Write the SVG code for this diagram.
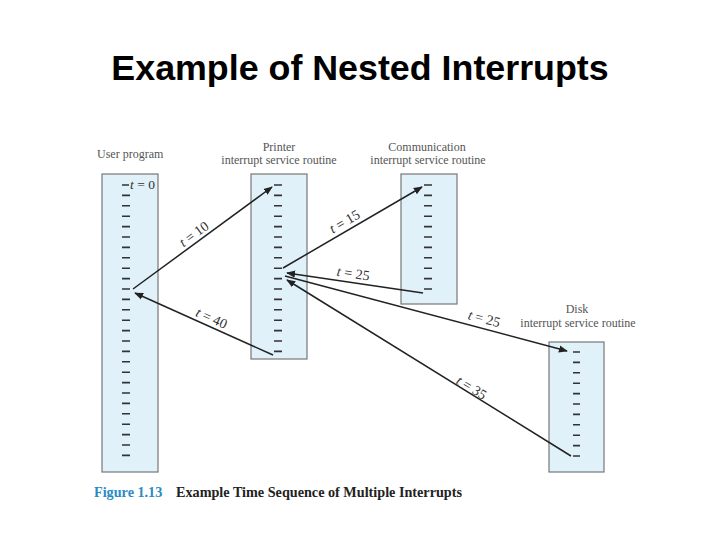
<svg xmlns="http://www.w3.org/2000/svg" width="720" height="540" viewBox="0 0 720 540">
<style>
.box{fill:#e0f1fa;stroke:#777;stroke-width:1.2}
.tick{stroke:#333;stroke-width:1.6;fill:none}
.hdr{font-family:"Liberation Serif",serif;font-size:12px;fill:#555;text-anchor:middle}
.lbl{font-family:"Liberation Serif",serif;font-size:14px;fill:#333;text-anchor:middle}
.arr{stroke:#222;stroke-width:1.5;fill:none;marker-end:url(#ah)}
</style>
<defs>
<marker id="ah" viewBox="0 0 10 10" refX="9" refY="5" markerWidth="6" markerHeight="6" orient="auto" markerUnits="strokeWidth">
<path d="M0,1 L10,5 L0,9 Z" fill="#222"/>
</marker>
</defs>
<rect width="720" height="540" fill="#fff"/>
<text x="360" y="80" font-family="Liberation Sans,Arial,sans-serif" font-size="35.8" font-weight="bold" text-anchor="middle" fill="#000">Example of Nested Interrupts</text>

<g id="user">
<rect class="box" x="102" y="174" width="56" height="298"/>
<text class="hdr" x="97" y="158" style="text-anchor:start">User program</text>
<path class="tick" d="M122,185h7M122,195.4h8M122,205.8h8M122,216.2h8M122,226.6h8M122,237h8M122,247.4h8M122,257.8h8M122,268.2h8M122,278.6h8M122,289h8M122,299.4h8M122,309.8h8M122,320.2h8M122,330.6h8M122,341h8M122,351.4h8M122,361.8h8M122,372.2h8M122,382.6h8M122,393h8M122,403.4h8M122,413.8h8M122,424.2h8M122,434.6h8M122,445h8M122,455.4h8"/>
<text x="130" y="189" font-family="Liberation Serif,serif" font-size="13.5" fill="#333"><tspan font-style="italic">t</tspan> = 0</text>
</g>

<g id="printer">
<rect class="box" x="251" y="174" width="56" height="185"/>
<text class="hdr" x="279" y="151">Printer</text>
<text class="hdr" x="279" y="164">interrupt service routine</text>
<path class="tick" d="M274,185h8M274,195.4h8M274,205.8h8M274,216.2h8M274,226.6h8M274,237h8M274,247.4h8M274,257.8h8M274,268.2h8M274,278.6h8M274,289h8M274,299.4h8M274,309.8h8M274,320.2h8M274,330.6h8M274,341h8M274,351.4h8"/>
</g>

<g id="comm">
<rect class="box" x="401" y="174" width="56" height="130"/>
<text class="hdr" x="427" y="151">Communication</text>
<text class="hdr" x="428" y="164">interrupt service routine</text>
<path class="tick" d="M424,185h8M424,195.4h8M424,205.8h8M424,216.2h8M424,226.6h8M424,237h8M424,247.4h8M424,257.8h8M424,268.2h8M424,278.6h8M424,289h8"/>
</g>

<g id="disk">
<rect class="box" x="549" y="342" width="55" height="130"/>
<text class="hdr" x="577" y="313">Disk</text>
<text class="hdr" x="578" y="327">interrupt service routine</text>
<path class="tick" d="M573,352h7M573,362.4h7M573,372.8h7M573,383.2h7M573,393.6h7M573,404h7M573,414.4h7M573,424.8h7M573,435.2h7M573,445.6h7M573,456h7"/>
</g>

<g id="connectors">
<line class="arr" x1="133" y1="289" x2="272" y2="187"/>
<line class="arr" x1="283" y1="268" x2="422" y2="187"/>
<line class="arr" x1="423" y1="293" x2="287" y2="273"/>
<line class="arr" x1="285" y1="276" x2="567" y2="351"/>
<line class="arr" x1="571" y1="456" x2="287" y2="280"/>
<line class="arr" x1="273" y1="355" x2="135" y2="293"/>
<text class="lbl" transform="translate(199,241) rotate(-36.3)" y="-4"><tspan font-style="italic">t</tspan> = 10</text>
<text class="lbl" transform="translate(349,229) rotate(-30.2)" y="-4"><tspan font-style="italic">t</tspan> = 15</text>
<text class="lbl" transform="translate(352,282) rotate(8.4)" y="-4"><tspan font-style="italic">t</tspan> = 25</text>
<text class="lbl" transform="translate(482,327) rotate(14.9)" y="-4"><tspan font-style="italic">t</tspan> = 25</text>
<text class="lbl" transform="translate(467,395) rotate(31.8)" y="-4"><tspan font-style="italic">t</tspan> = 35</text>
<text class="lbl" transform="translate(208,326) rotate(24.2)" y="-4"><tspan font-style="italic">t</tspan> = 40</text>
</g>

<text x="94" y="497" font-family="Liberation Serif,serif" font-size="14.2" font-weight="bold" fill="#2b8ac4">Figure 1.13</text>
<text x="176" y="497" font-family="Liberation Serif,serif" font-size="14.2" font-weight="bold" fill="#222">Example Time Sequence of Multiple Interrupts</text>
</svg>
